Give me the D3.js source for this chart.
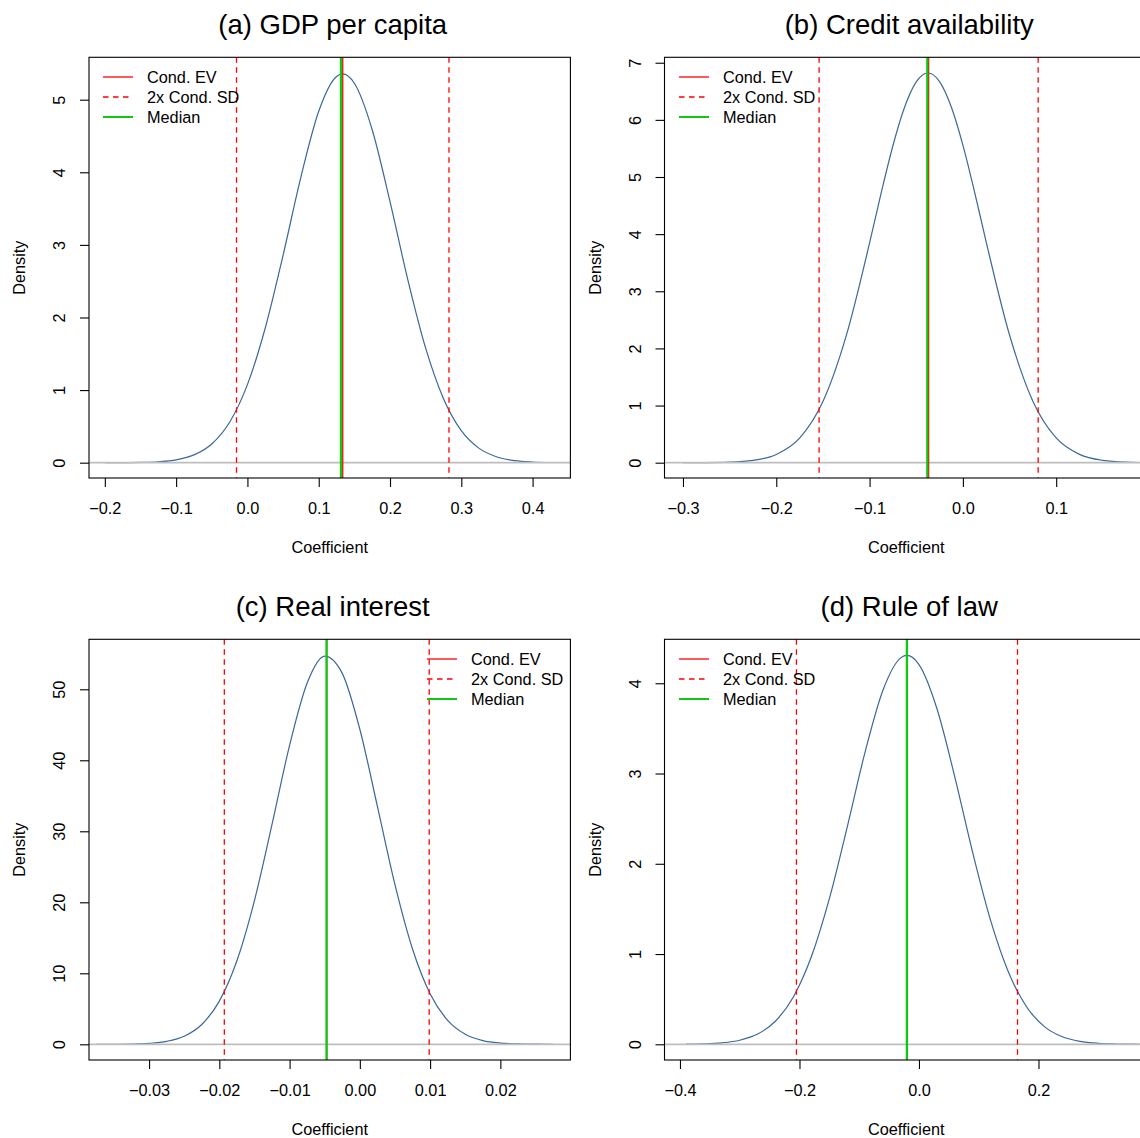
<!DOCTYPE html>
<html>
<head>
<meta charset="utf-8">
<script src="https://cdn.jsdelivr.net/npm/d3@7"></script>
<style>
  body { margin: 0; background: #fff; }
  svg { display: block; font-family: "Liberation Sans", Arial, Helvetica, sans-serif; }
</style>
</head>
<body>
<svg id="chart" width="1140" height="1138"></svg>
<script>
// values
const titles = ["(a) GDP per capita", "(b) Credit availability", "(c) Real interest", "(d) Rule of law"];
const legendLabels = ["Cond. EV", "2x Cond. SD", "Median"];

const condEV  = [0.1337, -0.0367, -0.00471, -0.0201];
const condSD  = [0.0745, 0.0587, 0.00729, 0.0925];
const medians = [0.1312, -0.0381, -0.00474, -0.0202];

const gdpX = [-0.200, -0.175, -0.150, -0.125, -0.100, -0.075, -0.050, -0.025, 0.000, 0.025, 0.050, 0.075, 0.100, 0.125, 0.1335,
    0.150, 0.175, 0.200, 0.225, 0.250, 0.275, 0.300, 0.325, 0.350, 0.375, 0.400, 0.425];
const gdpDensity = [0.0002, 0.001, 0.004, 0.013, 0.039, 0.107, 0.258, 0.557, 1.075, 1.855, 2.857, 3.934, 4.840, 5.320, 5.355,
    5.226, 4.586, 3.595, 2.519, 1.577, 0.882, 0.441, 0.197, 0.079, 0.028, 0.009, 0.0025];

const creditX = [-0.300, -0.275, -0.250, -0.225, -0.200, -0.175, -0.150, -0.125, -0.100, -0.0875, -0.075, -0.0625, -0.050,
    -0.0374, -0.025, -0.0125, 0.000, 0.0125, 0.025, 0.050, 0.075, 0.100, 0.125, 0.150, 0.175, 0.200, 0.225];
const creditDensity = [0.0003, 0.0018, 0.009, 0.040, 0.143, 0.429, 1.069, 2.223, 3.847, 4.726, 5.547, 6.220, 6.664,
    6.820, 6.669, 6.229, 5.559, 4.740, 3.861, 2.234, 1.077, 0.433, 0.145, 0.040, 0.009, 0.0018, 0.0003];

const interestX = [-0.0375, -0.0350, -0.0325, -0.0300, -0.0275, -0.0250, -0.0225, -0.0200, -0.0175, -0.0150, -0.0125,
    -0.0100, -0.0075, -0.0050, -0.0025, 0.0000, 0.0025, 0.0050, 0.0075, 0.0100, 0.0125, 0.0150, 0.0175, 0.0200,
    0.0225, 0.0250, 0.0275];
const interestDensity = [0.002, 0.010, 0.038, 0.134, 0.415, 1.142, 2.796, 6.087, 11.77, 20.25, 30.96,
    42.10, 50.88, 54.68, 52.24, 44.37, 33.51, 22.50, 13.43, 7.125, 3.361, 1.410, 0.526, 0.174,
    0.051, 0.014, 0.003];

const lawX = [-0.39, -0.36, -0.33, -0.30, -0.27, -0.24, -0.21, -0.18, -0.15, -0.12, -0.09, -0.06, -0.03, -0.0202,
    0.00, 0.03, 0.06, 0.09, 0.12, 0.15, 0.18, 0.21, 0.24, 0.27, 0.30, 0.33, 0.36, 0.39];
const lawDensity = [0.0015, 0.005, 0.016, 0.045, 0.113, 0.258, 0.527, 0.972, 1.613, 2.410, 3.243, 3.928, 4.284, 4.308,
    4.207, 3.720, 2.961, 2.122, 1.370, 0.796, 0.416, 0.196, 0.083, 0.032, 0.011, 0.0034, 0.0009, 0.0002];

const xTicks = [
    [-0.2, -0.1, 0, 0.1, 0.2, 0.3, 0.4],
    [-0.3, -0.2, -0.1, 0, 0.1],
    [-0.03, -0.02, -0.01, 0, 0.01, 0.02],
    [-0.4, -0.2, 0, 0.2]
];
const yTicks = [
    [0, 1, 2, 3, 4, 5],
    [0, 1, 2, 3, 4, 5, 6, 7],
    [0, 10, 20, 30, 40, 50],
    [0, 1, 2, 3, 4]
];

const curves = [
    [gdpX, gdpDensity],
    [creditX, creditDensity],
    [interestX, interestDensity],
    [lawX, lawDensity]
];

// plot regions (pixels) and scale ranges for each panel
const layout = [
    { left: 89, right: 570.4, top: 57.3, bottom: 478, xDomain: [-0.2222, 0.453], yDomain: [-0.211, 5.584], fmt: ".1f", legendX: 103 },
    { left: 664.5, right: 1148, top: 57.3, bottom: 478, xDomain: [-0.3198, 0.1984], yDomain: [-0.268, 7.095], fmt: ".1f", legendX: 679 },
    { left: 89, right: 570.4, top: 639.3, bottom: 1060, xDomain: [-0.03855, 0.02997], yDomain: [-2.21, 57.04], fmt: ".2f", legendX: 427 },
    { left: 664.5, right: 1148, top: 639.3, bottom: 1060, xDomain: [-0.4259, 0.3833], yDomain: [-0.174, 4.487], fmt: ".1f", legendX: 679 }
];

const FONT = 16.3;
const curveColor = "#3b6896";
const red = "#ff0000";
const green = "#10c810";
const dash = "5.5,4.5";

const svg = d3.select("#chart");
svg.append("rect").attr("width", 1140).attr("height", 1138).attr("fill", "#fff");

layout.forEach((p, i) => {
    const g = svg.append("g");

    const x = d3.scaleLinear().domain(p.xDomain).range([p.left, p.right]);
    const y = d3.scaleLinear().domain(p.yDomain).range([p.bottom, p.top]);

    const clipId = "clip" + i;
    svg.append("clipPath").attr("id", clipId)
        .append("rect")
        .attr("x", p.left).attr("y", p.top)
        .attr("width", p.right - p.left).attr("height", p.bottom - p.top);

    const plot = g.append("g").attr("clip-path", `url(#${clipId})`);

    // density curve
    const [xs, ys] = curves[i];
    const pts = xs.map((v, k) => [v, ys[k]]);
    plot.append("path")
        .datum(pts)
        .attr("fill", "none")
        .attr("stroke", curveColor)
        .attr("stroke-width", 1.2)
        .attr("d", d3.line().x(d => x(d[0])).y(d => y(d[1])).curve(d3.curveMonotoneX));

    // zero line
    plot.append("line")
        .attr("x1", p.left).attr("x2", p.right)
        .attr("y1", y(0)).attr("y2", y(0))
        .attr("stroke", "#bebebe").attr("stroke-width", 1.8);

    // EV, +-2 SD, median
    const vline = (v, color, w, dashed) => {
        plot.append("line")
            .attr("x1", x(v)).attr("x2", x(v))
            .attr("y1", p.top).attr("y2", p.bottom)
            .attr("stroke", color).attr("stroke-width", w)
            .attr("stroke-dasharray", dashed ? dash : null);
    };
    vline(condEV[i], red, 1.3, false);
    vline(condEV[i] - 2 * condSD[i], red, 1.3, true);
    vline(condEV[i] + 2 * condSD[i], red, 1.3, true);
    vline(medians[i], green, 2.3, false);

    // box
    g.append("rect")
        .attr("x", p.left).attr("y", p.top)
        .attr("width", p.right - p.left).attr("height", p.bottom - p.top)
        .attr("fill", "none").attr("stroke", "#000").attr("stroke-width", 1.1);

    // x axis
    const xAxis = g.append("g")
        .attr("transform", `translate(0,${p.bottom})`)
        .call(d3.axisBottom(x).tickValues(xTicks[i]).tickFormat(d3.format(p.fmt)).tickSize(9).tickSizeOuter(0))
        .attr("font-family", null).attr("font-size", null);
    xAxis.select(".domain").remove();
    xAxis.selectAll("line").attr("stroke", "#000").attr("stroke-width", 1.1);
    xAxis.selectAll("text")
        .attr("y", 36).attr("dy", null)
        .attr("font-size", FONT).attr("fill", "#000");

    // y axis, labels parallel to the axis
    const yAxis = g.append("g")
        .attr("transform", `translate(${p.left},0)`)
        .call(d3.axisLeft(y).tickValues(yTicks[i]).tickFormat(d3.format("d")).tickSize(9).tickSizeOuter(0))
        .attr("font-family", null).attr("font-size", null);
    yAxis.select(".domain").remove();
    yAxis.selectAll("line").attr("stroke", "#000").attr("stroke-width", 1.1);
    yAxis.selectAll("text")
        .attr("x", null).attr("dy", null)
        .attr("transform", "translate(-24,0) rotate(-90)")
        .attr("text-anchor", "middle")
        .attr("font-size", FONT).attr("fill", "#000");

    // axis titles
    const cx = (p.left + p.right) / 2;
    g.append("text")
        .attr("x", cx).attr("y", p.bottom + 75)
        .attr("text-anchor", "middle").attr("font-size", FONT)
        .text("Coefficient");
    g.append("text")
        .attr("transform", `translate(${p.left - 64},${(p.top + p.bottom) / 2}) rotate(-90)`)
        .attr("text-anchor", "middle").attr("font-size", FONT)
        .text("Density");

    // panel title
    g.append("text")
        .attr("x", cx + 3).attr("y", p.top - 23)
        .attr("text-anchor", "middle").attr("font-size", 27.5)
        .text(titles[i]);

    // legend
    const legendStyles = [
        { color: red, w: 1.3, dashed: false },
        { color: red, w: 1.3, dashed: true },
        { color: green, w: 2, dashed: false }
    ];
    legendLabels.forEach((lab, k) => {
        const ly = p.top + 19.7 + k * 20;
        const s = legendStyles[k];
        g.append("line")
            .attr("x1", p.legendX).attr("x2", p.legendX + 30)
            .attr("y1", ly).attr("y2", ly)
            .attr("stroke", s.color).attr("stroke-width", s.w)
            .attr("stroke-dasharray", s.dashed ? dash : null);
        g.append("text")
            .attr("x", p.legendX + 44).attr("y", ly + 5.8)
            .attr("font-size", FONT)
            .text(lab);
    });
});
</script>
</body>
</html>
